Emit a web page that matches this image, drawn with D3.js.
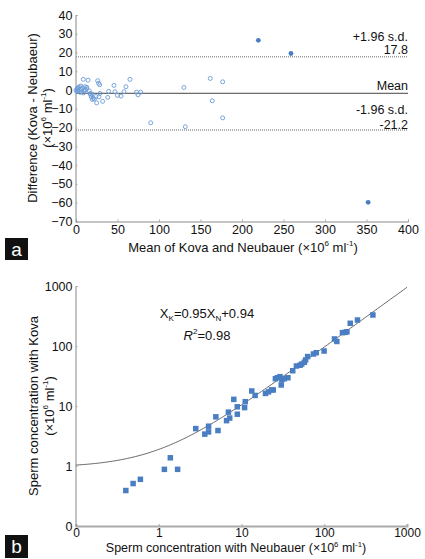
<!DOCTYPE html>
<html><head><meta charset="utf-8">
<script src="https://cdn.jsdelivr.net/npm/d3@7"></script>
<style>body{margin:0;background:#fff}svg{display:block}text{font-family:Arial,"Liberation Sans",sans-serif}</style>
</head><body>
<svg id="c" width="425" height="559"></svg>
<script>
// ---------- Panel a (Bland-Altman) ----------
const aMean = [0,1.6,2.8,4,5.6,6.8,8,8.8,10,10.8,12.9,14.5,16,16.9,17.7,18.4,19.6,19.3,20.8,24.9,26.1,27.3,28.5,27.7,28.9,32.1,39.4,38.2,45.8,47,49.8,54.2,57.8,60.2,65,73,74.7,77.9,90,130,131.7,161.8,164.2,176.7,176.7,1,3,6,2,9,11,5,13,22,24];
const aDiff = [0,0.7,-0.4,1.8,0.4,-0.9,1.1,5.7,-0.4,1.8,0.7,5.3,-0.4,-1.8,-2.5,-3.6,-5,-2.1,-4.3,-6.8,5,3.6,2.8,-3.6,-1.8,-6,-0.7,-3.9,2.5,-0.9,-2.8,-3.2,-0.9,1.8,5.7,-1.1,-2.5,-1.1,-17.4,1.4,-19.5,6.2,-5.7,4.4,-14.8,-0.8,1.2,2.2,0.9,-1.5,0.2,-1.2,1.5,-4.8,-3.4];
const aOutMean = [219.7,259,352];
const aOutDiff = [26.5,19.5,-59.8];
const aUpper = 17.8, aLower = -21.2, aMeanDiff = -1.7;
const aXTicks = [0,50,100,150,200,250,300,350,400];
const aYTicks = [40,30,20,10,0,-10,-20,-30,-40,-50,-60,-70];

// ---------- Panel b (Kova vs Neubauer) ----------
const bNeu  = [0.40,0.49,0.60,1.17,1.38,1.69,2.8,3.6,4.0,4.0,5.2,4.9,6.6,7.2,6.95,8.9,8.07,8.9,11.1,10.9,13.3,14.6,19.5,21.2,23,24.2,25.7,27.2,29.2,30.7,30.2,33,36.4,41.6,46.1,51,53.4,57.4,59.5,63,74,80,99.6,133,142,166,180,188,206,252,387];
const bKova = [0.39,0.51,0.60,0.88,1.37,0.88,4.2,3.4,4.6,3.7,3.9,6.6,5.7,6.3,7.9,7.3,12.9,9.7,11.8,9.4,17.8,15,16.2,17.2,18.5,18.5,28.5,29.6,30.8,27.4,22.4,28.5,29.6,38.7,46.4,47.8,50,53.6,58.5,66.6,73.6,77.3,82.5,131,119,167,169,173,239,271,329];
const bSlope = 0.95, bIntercept = 0.94;
const bTicks = [0.1,1,10,100,1000];
const bTickLabels = ["0","1","10","100","1000"];

const svg = d3.select("#c");
const axisCol = "#888", tickFont = 12.5;
const blue = "#4a7ec2";

function styleAxis(g){
  g.select(".domain").attr("stroke",axisCol);
  g.selectAll(".tick line").attr("stroke","#aaa");
  g.selectAll("text").attr("font-size",tickFont).attr("fill","#111").attr("font-family","Arial, 'Liberation Sans', sans-serif");
}
// rich text: segments [text, kind] where kind = "", "sup", "sub", "it"
function rich(sel, segs, fs){
  let cur = 0;
  segs.forEach(([t,k])=>{
    const target = k==="sup" ? -fs*0.4 : k==="sub" ? fs*0.28 : 0;
    const ts = sel.append("tspan").attr("dy", target-cur).text(t);
    cur = target;
    if(k==="sup"||k==="sub") ts.attr("font-size",fs*0.62);
    if(k==="it") ts.attr("font-style","italic");
  });
}
const unitSegs = [["(×10",""],["6","sup"],[" ml",""],["-1","sup"],[")",""]];

// ===== Panel a =====
const xa = d3.scaleLinear([0,400],[76,408]);
const ya = d3.scaleLinear([-70,40],[221.5,15]);
const ga = svg.append("g");

const axA = ga.append("g").attr("transform","translate(0,221.5)")
  .call(d3.axisBottom(xa).tickValues(aXTicks).tickSize(-2).tickPadding(6).tickFormat(d3.format("d")));
const ayA = ga.append("g").attr("transform","translate(75.5,0)")
  .call(d3.axisLeft(ya).tickValues(aYTicks).tickSize(-2).tickPadding(3).tickFormat(d3.format("d")));
styleAxis(axA); styleAxis(ayA);
axA.selectAll("text").attr("dy","0.35em").attr("y",8.5);

// limit lines
[aUpper, aLower].forEach(v=>{
  ga.append("line").attr("x1",xa(0)).attr("x2",xa(400)).attr("y1",ya(v)).attr("y2",ya(v))
    .attr("stroke","#999").attr("stroke-width",1.5).attr("stroke-dasharray","1,1");
});
ga.append("line").attr("x1",xa(0)).attr("x2",xa(400)).attr("y1",ya(aMeanDiff)).attr("y2",ya(aMeanDiff))
  .attr("stroke","#444").attr("stroke-width",1);

const lblA = [["+1.96 s.d.",36.7],[String(aUpper),50],["Mean",86],["-1.96 s.d.",110],[String(aLower),124.5]];
ga.selectAll("text.lbl").data(lblA).join("text").attr("class","lbl")
  .attr("x",408).attr("y",d=>d[1]).attr("dy","0.35em").attr("text-anchor","end")
  .attr("font-size",12.5).attr("fill","#111").text(d=>d[0]);

// points
ga.selectAll("circle.o").data(aMean.map((m,i)=>[m,aDiff[i]])).join("circle").attr("class","o")
  .attr("cx",d=>xa(d[0])).attr("cy",d=>ya(d[1])).attr("r",2)
  .attr("fill","none").attr("stroke","#6b9bd6").attr("stroke-width",0.9);
ga.selectAll("circle.f").data(aOutMean.map((m,i)=>[m,aOutDiff[i]])).join("circle").attr("class","f")
  .attr("cx",d=>xa(d[0])).attr("cy",d=>ya(d[1])).attr("r",2.4).attr("fill",blue);

// titles
ga.append("text").attr("transform","translate(32,118) rotate(-90)").attr("text-anchor","middle")
  .attr("dy","0.35em").attr("font-size",13).attr("fill","#111").text("Difference (Kova - Neubaeur)");
const ta2 = ga.append("text").attr("transform","translate(47,118) rotate(-90)").attr("text-anchor","middle")
  .attr("y",4.5).attr("font-size",13).attr("fill","#111");
rich(ta2, unitSegs, 13);
const tx = ga.append("text").attr("x",243).attr("y",251.5).attr("text-anchor","middle")
  .attr("font-size",13).attr("fill","#111");
rich(tx, [["Mean of Kova and Neubauer ",""]].concat(unitSegs), 13);

// panel label a
ga.append("rect").attr("x",5).attr("y",238).attr("width",23).attr("height",22).attr("fill","#111");
ga.append("text").attr("x",16.5).attr("y",249).attr("dy","0.35em").attr("text-anchor","middle")
  .attr("font-size",19).attr("fill","#fff").text("a");

// ===== Panel b =====
const xb = d3.scaleLog([0.1,1000],[76,407]);
const yb = d3.scaleLog([0.1,1000],[526,286]);
const gb = svg.append("g");
const fmt = d => bTickLabels[bTicks.indexOf(d)];
const axB = gb.append("g").attr("transform","translate(0,526)")
  .call(d3.axisBottom(xb).tickValues(bTicks).tickSize(-2).tickPadding(6).tickFormat(fmt));
const ayB = gb.append("g").attr("transform","translate(75.5,0)")
  .call(d3.axisLeft(yb).tickValues(bTicks).tickSize(-2).tickPadding(3).tickFormat(fmt));
styleAxis(axB); styleAxis(ayB);
axB.select(".domain").attr("stroke","#aaa").attr("stroke-width",2);
axB.selectAll("text").attr("font-size",12).attr("dy","0.35em").attr("y",6.5);

// fit curve
const xs = d3.range(-1,3.001,0.02).map(e=>Math.pow(10,e));
const line = d3.line().x(d=>xb(d)).y(d=>yb(bSlope*d+bIntercept));
gb.append("path").attr("d",line(xs)).attr("fill","none").attr("stroke","#666").attr("stroke-width",1);

// squares
const s = 5.5;
gb.selectAll("rect.p").data(bNeu.map((n,i)=>[n,bKova[i]])).join("rect").attr("class","p")
  .attr("x",d=>xb(d[0])-s/2).attr("y",d=>yb(d[1])-s/2).attr("width",s).attr("height",s).attr("fill",blue);

// annotation
const eq = gb.append("text").attr("x",207).attr("y",317.5).attr("text-anchor","middle")
  .attr("font-size",13).attr("fill","#111");
rich(eq, [["X",""],["K","sub"],["=0.95X",""],["N","sub"],["+0.94",""]], 13);
const r2 = gb.append("text").attr("x",207).attr("y",339.5).attr("text-anchor","middle")
  .attr("font-size",13).attr("fill","#111");
rich(r2, [["R","it"],["2","sup"],["=0.98",""]], 13);

// titles
gb.append("text").attr("transform","translate(33,406) rotate(-90)").attr("text-anchor","middle")
  .attr("dy","0.35em").attr("font-size",13).attr("fill","#111").text("Sperm concentration with Kova");
const tb2 = gb.append("text").attr("transform","translate(49,406) rotate(-90)").attr("text-anchor","middle")
  .attr("y",4.5).attr("font-size",13).attr("fill","#111");
rich(tb2, unitSegs, 13);
const txb = gb.append("text").attr("x",236).attr("y",551.8).attr("text-anchor","middle")
  .attr("font-size",12.5).attr("fill","#111");
rich(txb, [["Sperm concentration with Neubauer ",""]].concat(unitSegs), 12.5);

gb.append("rect").attr("x",5).attr("y",535).attr("width",23).attr("height",23).attr("fill","#111");
gb.append("text").attr("x",16.5).attr("y",546.5).attr("dy","0.35em").attr("text-anchor","middle")
  .attr("font-size",19).attr("fill","#fff").text("b");
</script>
</body></html>
